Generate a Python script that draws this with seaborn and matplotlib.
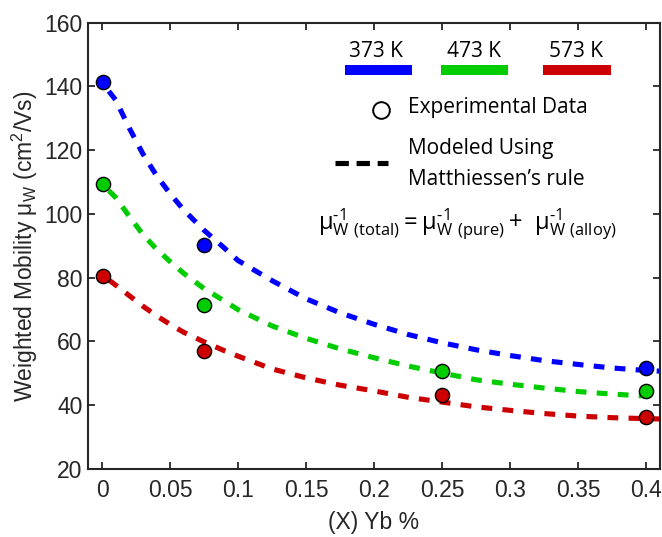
import numpy as np
import pandas as pd
import matplotlib
matplotlib.use("Agg")
import matplotlib.pyplot as plt
import seaborn as sns
from matplotlib.lines import Line2D

# ---------------- data ----------------
temps = ["373 K", "473 K", "573 K"]
colors = ["#0000FF", "#00CC00", "#CC0000"]

# experimental points
exp_x_373 = [0.001, 0.075, 0.4]
exp_y_373 = [141.5, 90.4, 51.8]
exp_x_473 = [0.001, 0.075, 0.25, 0.4]
exp_y_473 = [109.5, 71.6, 50.7, 44.4]
exp_x_573 = [0.001, 0.075, 0.25, 0.4]
exp_y_573 = [80.5, 56.9, 43.3, 36.3]

# modeled curves
model_x = [0.005, 0.01, 0.02, 0.03, 0.04, 0.05, 0.06, 0.075, 0.09, 0.1, 0.125,
           0.15, 0.175, 0.2, 0.225, 0.25, 0.275, 0.3, 0.325, 0.35, 0.375, 0.4, 0.41]
model_373 = [138.5, 135.8, 127.0, 118.9, 112.1, 106.4, 101.3, 94.9, 89.3, 85.4, 79.1,
             73.4, 69.0, 65.4, 62.2, 59.6, 57.4, 55.6, 54.0, 52.8, 51.7, 50.9, 50.7]
model_473 = [107.3, 105.2, 99.3, 93.6, 89.0, 85.1, 81.4, 76.6, 72.7, 70.0, 64.9,
             61.0, 57.7, 54.9, 52.3, 50.1, 48.0, 46.6, 45.4, 44.3, 43.5, 42.9, 42.7]
model_573 = [79.3, 77.7, 74.4, 71.1, 68.1, 65.4, 62.9, 59.9, 57.1, 55.4, 51.4,
             48.6, 46.3, 44.5, 42.5, 41.0, 39.5, 38.4, 37.4, 36.6, 36.1, 35.8, 35.7]

x_ticks = [0, 0.05, 0.1, 0.15, 0.2, 0.25, 0.3, 0.35, 0.4]
x_ticklabels = ["0", "0.05", "0.1", "0.15", "0.2", "0.25", "0.3", "0.35", "0.4"]
y_ticks = [20, 40, 60, 80, 100, 120, 140, 160]

# ---------------- style ----------------
sns.set_theme(style="white")
plt.rcParams["font.family"] = ["Liberation Sans", "DejaVu Sans"]
plt.rcParams["mathtext.fontset"] = "custom"
plt.rcParams["mathtext.rm"] = "Liberation Sans"

DARK = "#262626"

fig = plt.figure(figsize=(6.62, 5.37), dpi=100)
ax = fig.add_axes([88 / 662, 1 - 469 / 537, 572 / 662, 446.3 / 537])

exp_sets = [(exp_x_373, exp_y_373), (exp_x_473, exp_y_473), (exp_x_573, exp_y_573)]
model_sets = [model_373, model_473, model_573]

for t, c, ys in zip(temps, colors, model_sets):
    df = pd.DataFrame({"x": model_x, "y": ys})
    sns.lineplot(data=df, x="x", y="y", color=c, linewidth=3.7, ax=ax,
                 sort=False, estimator=None, zorder=2)
    ax.lines[-1].set_dashes((2.1, 2.0))
    ax.lines[-1].set_dash_capstyle("butt")

for t, c, (xs, ys) in zip(temps, colors, exp_sets):
    df = pd.DataFrame({"x": xs, "y": ys})
    sns.scatterplot(data=df, x="x", y="y", color=c, s=105, edgecolor="black",
                    linewidth=1.0, ax=ax, zorder=3, clip_on=False)

ax.set_xlim(-0.0103, 0.4103)
ax.set_ylim(20, 160)
ax.set_xticks(x_ticks)
ax.set_xticklabels(x_ticklabels)
ax.set_yticks(y_ticks)

for s in ax.spines.values():
    s.set_visible(True)
    s.set_color(DARK)
    s.set_linewidth(1.5)

ax.tick_params(axis="both", which="major", direction="in", length=5, width=1.3,
               color=DARK, labelcolor=DARK, labelsize=16.5, top=True, right=True,
               bottom=True, left=True)
ax.tick_params(axis="x", pad=7)
ax.tick_params(axis="y", pad=4)

ax.set_xlabel("(X) Yb %", fontsize=16.5, color=DARK, labelpad=7)
ax.set_ylabel(r"Weighted Mobility $\mathregular{μ_W}$ (cm$\mathregular{^2}$/Vs)",
              fontsize=16.5, color=DARK, labelpad=3)

# ---------------- legend-like annotations ----------------
ann_font = ["Open Sans", "DejaVu Sans"]
tr = ax.transAxes
bar_x = [(0.449, 0.566), (0.617, 0.734), (0.795, 0.914)]
lab_x = [0.503, 0.674, 0.854]
for t, c, (x0, x1), lx in zip(temps, colors, bar_x, lab_x):
    ax.add_line(Line2D([x0, x1], [0.894, 0.894], transform=tr, color=c,
                       linewidth=7.2, solid_capstyle="butt", clip_on=False))
    ax.text(lx, 0.936, t, transform=tr, ha="center", va="center",
            fontsize=15, family=ann_font, color="black")

ax.add_line(Line2D([0.512], [0.804], transform=tr, marker="o", markersize=12,
                   markerfacecolor="white", markeredgecolor="black",
                   markeredgewidth=1.4, linestyle="none", clip_on=False))
ax.text(0.559, 0.809, "Experimental Data", transform=tr, ha="left", va="center",
        fontsize=15, family=ann_font, color="black")

dl = Line2D([0.432, 0.524], [0.686, 0.686], transform=tr, color="black",
            linewidth=3.7, clip_on=False)
dl.set_dashes((2.6, 1.5))
dl.set_dash_capstyle("butt")
ax.add_line(dl)
ax.text(0.559, 0.719, "Modeled Using", transform=tr, ha="left", va="center",
        fontsize=15, family=ann_font, color="black")
ax.text(0.559, 0.648, "Matthiessen\u2019s rule", transform=tr, ha="left", va="center",
        fontsize=15, family=ann_font, color="black")

eq = (r"$\mathregular{μ^{‐1}_{W\ (total)}=μ^{‐1}_{W\ (pure)}+\ μ^{‐1}_{W\ (alloy)}}$")
ax.text(0.402, 0.548, eq, transform=tr, ha="left", va="center",
        fontsize=17, family=ann_font, color="black")

fig.savefig("out.png", dpi=100)
